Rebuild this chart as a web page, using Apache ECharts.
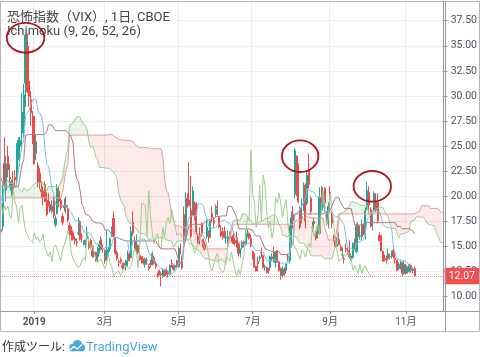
<!DOCTYPE html>
<html>
<head>
<meta charset="utf-8">
<script src="https://cdn.jsdelivr.net/npm/echarts@6/dist/echarts.min.js"></script>
<style>html,body{margin:0;padding:0;background:#fff;}#c{width:480px;height:357px;}</style>
</head>
<body>
<div id="c"></div>
<script>
// ---------- trading calendar (month key + trading days) ----------
const MONTHS = ['2018-08','2018-09','2018-10','2018-11','2018-12','2019-01','2019-02','2019-03','2019-04','2019-05','2019-06','2019-07','2019-08','2019-09','2019-10','2019-11','2019-12'];
const DAYS = [
  [14,15,16,17,20,21,22,23,24,27,28,29,30,31],
  [4,5,6,7,10,11,12,13,14,17,18,19,20,21,24,25,26,27,28],
  [1,2,3,4,5,8,9,10,11,12,15,16,17,18,19,22,23,24,25,26,29,30,31],
  [1,2,5,6,7,8,9,12,13,14,15,16,19,20,21,23,26,27,28,29,30],
  [3,4,6,7,10,11,12,13,14,17,18,19,20,21,24,26,27,28,31],
  [2,3,4,7,8,9,10,11,14,15,16,17,18,22,23,24,25,28,29,30,31],
  [1,4,5,6,7,8,11,12,13,14,15,19,20,21,22,25,26,27,28],
  [1,4,5,6,7,8,11,12,13,14,15,18,19,20,21,22,25,26,27,28,29],
  [1,2,3,4,5,8,9,10,11,12,15,16,17,18,22,23,24,25,26,29,30],
  [1,2,3,6,7,8,9,10,13,14,15,16,17,20,21,22,23,24,28,29,30,31],
  [3,4,5,6,7,10,11,12,13,14,17,18,19,20,21,24,25,26,27,28],
  [1,2,3,5,8,9,10,11,12,15,16,17,18,19,22,23,24,25,26,29,30,31],
  [1,2,5,6,7,8,9,12,13,14,15,16,19,20,21,22,23,26,27,28,29,30],
  [3,4,5,6,9,10,11,12,13,16,17,18,19,20,23,24,25,26,27,30],
  [1,2,3,4,7,8,9,10,11,14,15,16,17,18,21,22,23,24,25,28,29,30,31],
  [1,4,5,6,7,8,11,12,13,14,15,18,19,20,21,22,25,26,27,29],
  [2,3]
];
const FIRST_SHOWN = '2018-12-03';

// ---------- VIX daily OHLC (Aug 14 2018 .. Nov 8 2019) ----------
const opens = [
 14.0,13.8,14.0,13.5,12.8,12.4,12.8,12.2,12.3,12.0,12.1,12.3,12.4,13.5,
 13.4,13.2,14.0,14.8,14.6,14.6,13.3,12.8,12.3,12.5,13.5,12.8,11.6,11.5,12.2,12.2,12.3,12.6,12.5,
 12.0,12.3,11.8,12.0,14.5,15.4,15.9,16.0,23.4,24.1,22.3,20.0,17.9,17.6,19.5,19.6,21.0,20.5,23.5,25.5,22.3,24.5,21.7,
 21.5,18.9,20.2,20.6,18.5,16.5,17.8,17.6,19.8,19.8,21.2,20.6,18.5,21.8,21.3,21.3,20.8,19.6,19.2,18.7,18.4,
 16.7,17.0,23.3,20.6,24.0,21.9,20.6,21.3,21.9,21.7,24.2,25.0,26.3,27.0,31.3,35.0,31.5,29.6,28.0,
 27.5,24.3,23.1,22.3,20.7,20.5,21.2,19.5,19.6,19.2,18.5,19.6,17.2,18.3,20.5,19.6,18.0,19.1,18.9,18.8,17.1,
 16.7,16.4,15.8,15.5,16.3,17.5,16.0,15.4,15.2,15.8,15.4,15.6,14.6,14.2,14.4,14.0,15.0,15.7,14.8,
 14.6,13.8,14.7,14.8,16.0,17.8,15.9,14.4,13.5,13.7,13.1,13.3,13.0,13.6,14.3,13.9,17.4,15.6,14.6,15.1,14.1,
 14.0,13.5,13.2,13.6,13.0,13.3,13.2,13.9,13.3,12.3,12.6,12.3,12.0,12.5,12.7,12.4,12.2,13.3,13.1,12.9,13.6,
 13.0,14.8,14.0,18.2,16.0,19.8,19.6,18.6,18.3,19.3,18.9,16.0,16.2,17.3,15.7,15.2,16.0,16.3,16.3,18.3,17.6,18.2,
 19.0,17.9,16.5,16.3,16.5,15.9,15.6,16.1,15.9,16.1,15.6,15.9,15.2,14.3,14.9,15.5,15.2,16.0,16.3,15.8,
 14.5,14.3,13.0,13.5,13.8,14.4,14.1,12.9,12.9,12.8,12.9,13.8,14.5,13.4,14.6,13.5,12.8,12.2,12.6,12.6,14.0,13.6,
 15.9,18.2,20.2,24.0,20.5,18.8,17.9,18.8,21.1,19.3,22.7,19.8,16.9,17.3,16.5,16.3,16.3,19.8,18.9,20.8,18.4,17.3,
 20.4,18.4,16.0,15.6,15.0,15.7,15.0,14.2,13.8,14.8,14.6,14.4,13.8,13.9,15.6,14.5,17.1,16.0,16.0,17.2,
 16.5,18.8,20.4,18.7,17.4,18.6,19.4,19.4,16.1,16.1,14.5,13.8,13.8,13.8,14.0,14.0,14.6,13.8,13.6,12.8,13.2,13.4,12.3,
 13.1,12.5,12.7,13.1,12.6,12.8
];
const highs = [
 14.1,16.9,14.1,13.8,13.0,12.9,12.9,12.8,12.4,12.3,12.6,12.4,14.3,14.2,
 13.9,14.4,15.4,15.6,14.8,14.7,13.8,12.9,12.6,13.9,13.6,12.9,11.9,12.1,12.8,12.6,13.1,12.8,12.9,
 12.3,12.6,12.0,15.0,16.0,17.4,16.7,23.2,28.84,25.0,22.4,20.3,20.4,20.6,21.2,21.1,25.4,25.9,25.0,27.5,27.6,25.0,22.6,
 21.5,21.0,20.6,21.0,18.5,17.0,18.6,20.5,20.6,22.5,22.0,20.8,20.6,23.8,21.5,22.5,20.8,19.9,19.6,19.2,18.7,
 17.4,21.2,25.9,24.0,25.0,23.2,21.7,22.5,22.6,25.3,25.9,25.9,30.3,31.2,36.1,36.2,35.0,30.5,28.5,
 28.0,26.1,23.4,22.8,21.5,21.0,21.5,20.4,20.3,19.5,19.6,20.0,18.1,21.2,20.9,19.9,18.3,19.8,20.0,19.1,17.4,
 17.0,16.6,16.0,15.8,17.9,17.6,16.3,15.6,15.7,17.0,15.6,15.8,14.9,15.1,14.5,15.0,15.6,16.0,15.2,
 14.7,16.6,15.0,15.9,17.0,18.5,16.0,14.6,13.7,13.9,13.4,13.4,13.7,14.6,14.5,17.0,18.5,16.0,16.2,15.2,14.2,
 14.0,13.8,13.9,13.9,13.2,13.7,14.5,14.1,13.5,12.4,12.7,12.5,12.8,12.7,12.9,12.6,13.2,13.7,13.2,13.2,13.7,
 15.0,15.3,14.1,19.0,20.4,20.3,23.4,22.0,21.0,19.5,19.4,16.2,16.9,17.4,15.8,15.5,17.7,16.6,17.7,19.0,17.9,19.2,
 19.6,18.0,17.1,16.9,17.0,16.3,16.6,16.5,16.0,16.5,15.9,16.5,15.4,14.8,15.6,15.6,16.6,16.7,16.4,16.2,
 14.6,14.3,13.1,14.0,14.1,14.9,14.2,13.2,13.0,12.8,14.1,14.3,15.0,14.5,14.6,13.6,12.9,13.0,12.9,13.3,14.3,17.1,
 18.5,19.0,24.8,24.1,23.3,19.0,19.8,21.4,21.3,22.5,24.3,20.0,17.5,17.9,16.6,17.1,20.9,21.0,20.9,20.9,18.5,19.4,
 21.0,18.5,16.2,15.7,15.9,16.4,15.2,14.9,14.1,15.3,15.0,15.6,14.3,15.4,15.8,17.3,17.4,17.1,17.7,17.3,
 18.9,21.46,21.0,18.9,18.3,20.5,20.3,20.3,16.4,16.1,14.6,14.2,14.1,14.8,14.3,14.6,15.0,14.1,13.7,13.4,13.6,13.5,13.6,
 13.3,13.0,13.3,13.2,12.9,13.0
];
const lows = [
 13.0,13.6,13.3,12.6,12.3,12.0,12.2,11.9,11.8,11.7,11.9,11.9,12.3,12.8,
 12.9,13.0,13.7,14.1,13.9,13.0,12.8,12.2,11.8,12.4,12.6,11.6,11.3,11.1,12.0,11.9,11.9,12.2,11.9,
 11.6,11.7,10.85,11.9,14.1,15.0,15.3,16.0,22.0,20.4,20.4,17.3,17.0,17.3,17.3,19.1,20.3,19.8,22.4,22.9,21.6,22.9,20.9,
 19.2,17.8,19.3,19.3,16.2,16.0,17.0,17.3,19.2,19.5,19.9,18.1,18.0,21.0,19.9,20.7,18.8,18.7,18.4,17.9,17.8,
 16.1,16.6,20.9,19.5,21.9,20.9,20.0,20.2,20.9,21.2,23.6,23.0,24.9,25.8,28.9,30.3,28.9,27.0,25.2,
 23.2,23.6,20.9,20.7,19.8,19.1,19.4,18.0,19.0,18.4,18.3,17.8,16.9,18.2,18.9,18.6,17.1,18.5,18.3,17.4,16.1,
 15.6,15.6,15.2,15.0,16.1,15.6,15.4,15.1,14.9,15.6,14.7,14.7,13.9,13.9,13.5,13.5,14.3,14.6,14.4,
 13.3,13.6,14.3,14.5,15.9,16.0,14.2,13.6,13.0,13.3,12.7,12.8,12.6,13.0,13.5,13.8,16.1,14.6,14.3,14.2,13.6,
 13.3,13.2,12.9,13.2,12.6,12.9,13.1,13.2,12.8,11.9,12.1,11.03,11.9,12.0,12.2,11.9,12.1,12.9,12.6,12.6,12.9,
 12.9,14.2,12.7,15.2,15.7,18.9,19.0,15.8,18.1,17.6,16.2,15.1,15.2,16.0,14.7,14.6,15.8,15.4,15.9,17.4,16.9,17.9,
 18.1,16.8,15.9,15.7,15.8,15.3,15.0,15.7,15.4,15.2,15.1,14.9,14.0,13.9,14.7,14.9,15.1,15.9,15.7,14.9,
 13.7,12.9,12.5,12.5,13.5,13.9,12.8,12.6,12.3,12.3,12.6,13.5,13.4,12.9,13.4,12.5,11.7,11.9,12.1,12.3,13.5,13.3,
 14.9,16.8,19.8,20.0,19.3,16.7,17.3,18.5,16.8,19.1,20.8,18.2,16.5,16.8,15.6,15.8,16.2,18.9,18.6,18.9,17.3,16.8,
 18.6,16.8,15.5,14.9,14.9,15.1,14.5,13.8,13.3,14.4,14.2,13.8,13.6,13.8,14.7,14.3,15.8,15.7,15.6,16.1,
 15.7,18.6,18.2,16.9,16.6,18.4,18.4,17.3,15.5,14.5,13.5,13.5,13.3,13.6,13.7,13.8,13.8,13.3,12.5,12.6,12.7,12.1,12.2,
 12.2,12.3,12.4,12.4,12.3,12.0
];
const closes = [
 13.31,14.64,13.45,12.64,12.49,12.86,12.25,12.41,11.99,12.16,12.50,12.25,13.53,12.86,
 13.16,13.91,14.65,14.88,14.16,13.22,13.14,12.37,12.07,13.68,12.79,11.75,11.80,11.68,12.20,12.42,12.89,12.41,12.12,
 12.00,12.05,11.61,14.22,14.82,15.69,15.95,22.96,24.98,21.31,21.30,17.62,17.40,20.06,19.89,19.64,20.71,25.23,24.22,24.16,24.70,23.35,21.23,
 19.34,19.51,19.96,19.91,16.36,16.72,17.36,20.45,20.02,21.25,19.98,18.14,20.10,22.48,20.80,21.52,18.90,19.02,18.49,18.79,18.07,
 16.44,20.74,21.19,23.23,22.64,21.76,21.46,20.65,21.63,24.52,25.58,25.58,28.38,30.11,36.07,30.41,29.96,28.34,25.42,
 23.22,25.45,21.38,21.40,20.47,19.98,19.50,18.19,19.07,18.60,19.04,18.06,17.80,20.80,19.52,18.89,17.42,18.87,19.13,17.66,16.57,
 16.14,15.73,15.57,15.38,16.37,15.72,15.97,15.43,15.65,16.22,14.91,14.88,14.02,14.46,13.51,14.85,15.17,14.70,14.78,
 13.57,14.63,14.74,15.74,16.59,16.05,14.33,13.77,13.41,13.50,12.88,13.10,13.56,13.91,13.63,16.48,16.33,14.68,15.15,14.43,13.71,
 13.40,13.36,13.74,13.58,12.82,13.18,14.28,13.30,13.02,12.01,12.32,12.18,12.60,12.09,12.42,12.28,13.14,13.25,12.73,13.11,13.12,
 14.80,14.42,12.87,15.44,19.32,19.40,19.10,16.04,20.55,18.06,16.44,15.29,15.96,16.31,14.95,14.75,16.92,15.85,17.50,17.90,17.30,18.71,
 18.86,16.97,16.09,15.93,16.30,15.94,15.99,15.91,15.82,15.28,15.35,15.15,14.33,14.75,15.40,15.26,16.28,16.21,15.82,15.08,
 14.06,12.93,12.57,13.28,13.96,14.35,12.93,12.93,12.39,12.68,13.97,13.97,13.53,14.45,13.53,12.61,12.07,12.74,12.16,13.24,13.94,16.12,
 17.87,17.61,24.59,20.17,19.49,16.91,17.97,21.09,17.52,22.10,21.18,18.47,16.88,17.50,15.80,16.68,19.87,19.32,20.31,19.35,17.88,18.98,
 19.66,17.33,15.82,15.00,15.27,15.20,14.61,14.22,13.74,14.67,14.44,13.95,14.05,15.32,14.91,17.05,15.96,16.07,17.22,16.24,
 18.56,20.56,19.12,17.04,17.86,20.28,18.64,17.57,15.58,14.57,13.54,13.68,13.79,14.25,14.00,14.46,14.01,13.71,12.65,13.11,13.20,12.33,13.22,
 12.30,12.83,13.10,12.62,12.73,12.07
];

// ---------- axis ticks / labels ----------
const TICK_DATES  = ['2019-01-02','2019-03-01','2019-05-01','2019-07-01','2019-09-03','2019-11-01'];
const TICK_LABELS = ['2019','3月','5月','7月','9月','11月'];
const Y_TICKS = [10,12.5,15,17.5,20,22.5,25,27.5,30,32.5,35,37.5];
const ICHIMOKU = [9, 26, 52, 26];
const TITLE_1 = '恐怖指数（VIX）, 1日, CBOE';
const TITLE_2 = 'Ichimoku (' + ICHIMOKU.join(', ') + ')';

// annotation ellipses: anchor date + value
const MARK_DATES  = ['2018-12-24','2019-08-08','2019-10-07'];
const MARK_VALUES = [35.8, 24.0, 21.0];

// ---------- build ----------
const dates = [];
MONTHS.forEach((m, k) => DAYS[k].forEach(d => dates.push(m + '-' + String(d).padStart(2, '0'))));
const NREAL = closes.length;
const S = dates.indexOf(FIRST_SHOWN);
const shownDates = dates.slice(S);
const N = shownDates.length;

function midHL(end, n) {
  const start = end - n + 1;
  if (start < 0 || end >= NREAL) return null;
  let h = -Infinity, l = Infinity;
  for (let k = start; k <= end; k++) { if (highs[k] > h) h = highs[k]; if (lows[k] < l) l = lows[k]; }
  return (h + l) / 2;
}
const OFF = ICHIMOKU[3] - 1; // TradingView plots with displacement-1
const candles = [], tenkan = [], kijun = [], spanA = [], spanB = [], chikou = [];
const cloudBase = [], cloudUp = [], cloudDn = [];
for (let d = 0; d < N; d++) {
  const f = S + d;
  candles.push(f < NREAL ? [opens[f], closes[f], lows[f], highs[f]] : '-');
  tenkan.push(f < NREAL ? midHL(f, ICHIMOKU[0]) : null);
  kijun.push(f < NREAL ? midHL(f, ICHIMOKU[1]) : null);
  const src = f - OFF;
  const t = midHL(src, ICHIMOKU[0]), kj = midHL(src, ICHIMOKU[1]);
  const a = (t != null && kj != null) ? (t + kj) / 2 : null;
  const b = midHL(src, ICHIMOKU[2]);
  spanA.push(a); spanB.push(b);
  if (a != null && b != null) {
    cloudBase.push(Math.min(a, b));
    cloudUp.push(Math.max(a - b, 0));
    cloudDn.push(Math.max(b - a, 0));
  } else { cloudBase.push(null); cloudUp.push(null); cloudDn.push(null); }
  chikou.push(f + OFF < NREAL ? closes[f + OFF] : null);
}
const lastClose = closes[NREAL - 1];

const FONT = 'Roboto, "Noto Sans CJK JP", sans-serif';
const isTick = (idx, val) => TICK_DATES.indexOf(val) >= 0;
const AXIS_C = '#9598a1';
const TXT_C = '#50535e';

function lineSeries(name, data, color, z) {
  return { name, type: 'line', data, symbol: 'none', showSymbol: false, silent: true, z,
    lineStyle: { color, width: 1 }, connectNulls: false };
}

const chart = echarts.init(document.getElementById('c'), null, { renderer: 'canvas' });
const option = {
  animation: false,
  backgroundColor: '#ffffff',
  grid: { left: 0, right: 35, top: 2, bottom: 46, containLabel: false },
  xAxis: {
    type: 'category', data: shownDates, boundaryGap: true,
    axisLine: { show: true, lineStyle: { color: AXIS_C, width: 1 } },
    axisTick: { show: true, alignWithLabel: true, length: 3, interval: isTick, lineStyle: { color: AXIS_C } },
    axisLabel: { show: true, interval: isTick, margin: 6, color: TXT_C, fontSize: 10, fontFamily: FONT,
      formatter: (v) => { const i = TICK_DATES.indexOf(v); if (i < 0) return ''; return i === 0 ? '{b|' + TICK_LABELS[i] + '}' : TICK_LABELS[i]; },
      rich: { b: { fontWeight: 'bold', color: TXT_C, fontSize: 10, fontFamily: FONT } } },
    splitLine: { show: true, interval: isTick, lineStyle: { color: '#eceef2', width: 1 } }
  },
  yAxis: {
    type: 'value', position: 'right', min: 8.575, max: 39.363,
    axisLine: { show: true, lineStyle: { color: AXIS_C, width: 1 } },
    axisTick: { show: true, length: 4, customValues: Y_TICKS, lineStyle: { color: AXIS_C } },
    axisLabel: { show: true, customValues: Y_TICKS, margin: 7, color: TXT_C, fontSize: 10.5, fontFamily: FONT,
      formatter: (v) => Number(v).toFixed(2) },
    splitLine: { show: true, lineStyle: { color: '#eceef2', width: 1 } }
  },
  series: [
    { name: 'cloudBase', type: 'line', data: cloudBase, stack: 'cloud', symbol: 'none', silent: true, z: 3,
      lineStyle: { opacity: 0, width: 0 } },
    { name: 'cloudUp', type: 'line', data: cloudUp, stack: 'cloud', symbol: 'none', silent: true, z: 3,
      lineStyle: { opacity: 0, width: 0 }, areaStyle: { color: 'rgba(76,175,80,0.18)' } },
    { name: 'cloudDn', type: 'line', data: cloudDn, stack: 'cloud', symbol: 'none', silent: true, z: 3,
      lineStyle: { opacity: 0, width: 0 }, areaStyle: { color: 'rgba(240,80,70,0.17)' } },
    lineSeries('Leading A', spanA, '#9ccd95', 4),
    lineSeries('Leading B', spanB, '#e89b9b', 4),
    lineSeries('Lagging', chikou, '#9fcb8d', 4),
    lineSeries('Base', kijun, '#b07a7d', 4),
    lineSeries('Conversion', tenkan, '#80c0e4', 4),
    {
      name: 'VIX', type: 'candlestick', data: candles, barWidth: 1.6, z: 2, silent: true,
      itemStyle: { color: '#22a595', color0: '#ec4a48', borderColor: '#22a595', borderColor0: '#ec4a48', borderWidth: 1 },
      markLine: {
        silent: true, symbol: ['none', 'none'], animation: false,
        data: [{ yAxis: lastClose }],
        lineStyle: { color: '#f08a8a', type: 'dotted', width: 1 },
        label: { show: true, position: 'end', distance: 1, formatter: () => lastClose.toFixed(2),
          backgroundColor: '#ef4f4f', color: '#ffffff', padding: [3, 4], fontSize: 10.5, fontFamily: FONT }
      }
    }
  ],
  graphic: [
    { type: 'rect', silent: true, z: 50, shape: { x: 0.5, y: 1.5, width: 479, height: 330 }, style: { fill: 'none', stroke: '#b2b5be', lineWidth: 1 } },
    { type: 'line', silent: true, z: 50, shape: { x1: 0, y1: 311.5, x2: 480, y2: 311.5 }, style: { stroke: AXIS_C, lineWidth: 1 } },
    { type: 'line', silent: true, z: 50, shape: { x1: 445.5, y1: 1.5, x2: 445.5, y2: 331.5 }, style: { stroke: AXIS_C, lineWidth: 1 } },
    { type: 'text', silent: true, z: 60, style: { x: 7, y: 11, text: TITLE_1, font: '13px ' + FONT, fill: '#444' } },
    { type: 'text', silent: true, z: 60, style: { x: 7, y: 25, text: TITLE_2, font: '13px ' + FONT, fill: '#444' } },
    { type: 'text', silent: true, z: 60, style: { x: 2, y: 347.5, text: '作成ツール: ', font: '12px ' + FONT, fill: '#333', verticalAlign: 'middle' } },
    { type: 'group', silent: true, z: 60, children: [
      { type: 'circle', shape: { cx: 73, cy: 347.5, r: 3.8 }, style: { fill: '#4aa8dc' } },
      { type: 'circle', shape: { cx: 77.5, cy: 344.5, r: 4.6 }, style: { fill: '#4aa8dc' } },
      { type: 'circle', shape: { cx: 81.5, cy: 347.5, r: 3.6 }, style: { fill: '#4aa8dc' } },
      { type: 'rect', shape: { x: 70, y: 347, width: 14, height: 4.2 }, style: { fill: '#4aa8dc' } },
      { type: 'polyline', shape: { points: [[70, 350], [74, 346.5], [77, 349], [82, 344.5]] }, style: { stroke: '#fff', lineWidth: 1.4, fill: 'none' } }
    ] },
    { type: 'text', silent: true, z: 60, style: { x: 86, y: 347.5, text: 'TradingView', font: '13px ' + FONT, fill: '#4aa8dc', verticalAlign: 'middle' } }
  ]
};
chart.setOption(option);

// annotation ellipses anchored to data coordinates
const RX = [18.8, 18.2, 18.7], RY = [14.8, 15.8, 15.3];
const ell = MARK_DATES.map((dt, i) => {
  const p = chart.convertToPixel({ xAxisIndex: 0, yAxisIndex: 0 }, [dt, MARK_VALUES[i]]);
  return { type: 'ellipse', silent: true, z: 70, shape: { cx: p[0], cy: p[1], rx: RX[i], ry: RY[i] },
    style: { fill: 'none', stroke: '#b3151d', lineWidth: 1.8 } };
});
chart.setOption({ graphic: option.graphic.concat(ell) });
</script>
</body>
</html>
